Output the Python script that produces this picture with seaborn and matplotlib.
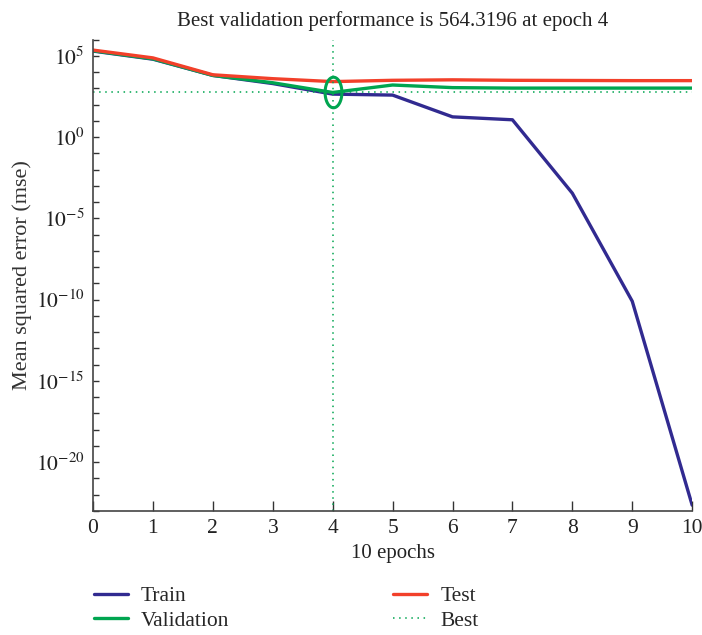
import numpy as np
import pandas as pd
import matplotlib
matplotlib.use("Agg")
import matplotlib.pyplot as plt
from matplotlib.path import Path
import seaborn as sns

# values (log10 of mse)
epochs = [0, 1, 2, 3, 4, 5, 6, 7, 8, 9, 10]
train_log = [5.3, 4.8, 3.8, 3.3, 2.65, 2.59, 1.25, 1.07, -3.45, -10.1, -22.65]
valid_log = [5.32, 4.82, 3.8, 3.35, 2.7514, 3.21, 3.05, 3.02, 3.02, 3.02, 3.02]
test_log = [5.36, 4.88, 3.84, 3.6, 3.42, 3.5, 3.53, 3.5, 3.49, 3.48, 3.48]
best_epoch = 4
best_perf = 564.3196

df = pd.DataFrame({
    "epoch": epochs * 3,
    "mse": np.power(10.0, train_log + valid_log + test_log),
    "set": ["Train"] * 11 + ["Validation"] * 11 + ["Test"] * 11,
})

sns.set_style("ticks")
plt.rcParams["font.family"] = ["Liberation Serif", "DejaVu Serif"]
plt.rcParams["mathtext.fontset"] = "stix"

palette = {"Train": "#312a90", "Validation": "#00a550", "Test": "#f2402a"}

fig = plt.figure(figsize=(7.02, 6.35), dpi=100)
ax = fig.add_axes([0.1325, 0.1955, 0.8535, 0.742])

sns.lineplot(data=df, x="epoch", y="mse", hue="set", palette=palette,
             hue_order=["Train", "Validation", "Test"], linewidth=2.4, ax=ax,
             legend=False)

ax.set_yscale("log")
# best lines
ax.axvline(best_epoch, color="#00a550", linestyle=(0, (1, 3)), linewidth=1.1)
ax.axhline(best_perf, color="#00a550", linestyle=(0, (1, 3)), linewidth=1.1)

# ellipse marker at best point
t = np.linspace(0, 2 * np.pi, 60)
ell = Path(np.column_stack([0.55 * np.cos(t), np.sin(t)]))
ax.plot([best_epoch], [best_perf], marker=ell, markersize=22, mfc="none",
        mec="#00a550", mew=2.2, linestyle="none")

ax.set_xlim(0, 10)
ax.set_ylim(1e-23, 1e6)
ax.set_xticks(range(0, 11))
ax.set_yticks([10.0 ** k for k in range(-23, 7)], minor=True)
ax.set_yticks([1e-20, 1e-15, 1e-10, 1e-5, 1e0, 1e5])
ax.set_yticklabels([r"$10^{-20}$", r"$10^{-15}$", r"$10^{-10}$", r"$10^{-5}$",
                    r"$10^{0}$", r"$10^{5}$"])
ax.tick_params(axis="x", direction="in", length=7, width=1, colors="#333333",
               labelsize=15.5, pad=6)
ax.tick_params(axis="y", which="both", direction="in", length=4, width=1,
               colors="#333333", labelsize=15.5, pad=6)
ax.tick_params(axis="y", which="minor", labelleft=False)
for lab in ax.get_xticklabels() + ax.get_yticklabels():
    lab.set_color("#222222")

sns.despine(ax=ax)
ax.spines["left"].set_color("#444444")
ax.spines["bottom"].set_color("#444444")
ax.spines["left"].set_linewidth(1.2)
ax.spines["bottom"].set_linewidth(1.2)

ax.set_title("Best validation performance is 564.3196 at epoch 4",
             fontsize=15, color="#222222", pad=10)
ax.set_xlabel("10 epochs", fontsize=15, color="#222222", labelpad=4)
ax.set_ylabel("Mean squared error (mse)", fontsize=16, color="#333333",
              labelpad=3)

handles = [
    plt.Line2D([], [], color=palette["Train"], lw=2.4),
    plt.Line2D([], [], color=palette["Validation"], lw=2.4),
    plt.Line2D([], [], color=palette["Test"], lw=2.4),
    plt.Line2D([], [], color="#00a550", lw=1.1, linestyle=(0, (1, 3))),
]
fig.legend(handles, ["Train", "Validation", "Test", "Best"], ncol=2,
           loc="upper left", bbox_to_anchor=(0.118, 0.094), frameon=False,
           fontsize=15.5, handlelength=1.6, handletextpad=0.6,
           columnspacing=7.6, labelspacing=0.2, borderpad=0)

fig.savefig("out.png", dpi=100)
